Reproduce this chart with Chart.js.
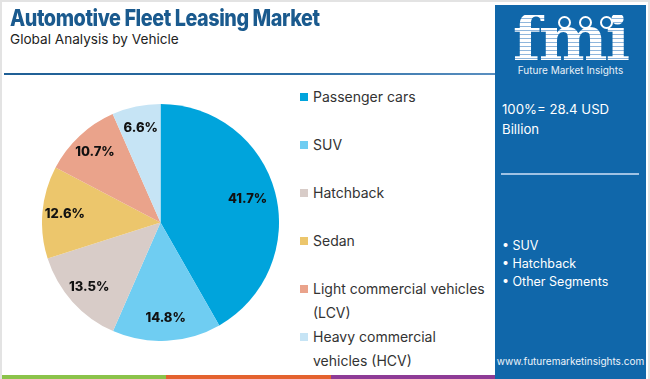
<!DOCTYPE html>
<html>
<head>
<meta charset="utf-8">
<script src="https://cdn.jsdelivr.net/npm/chart.js@4.4.1/dist/chart.umd.min.js"></script>
<style>
  html, body { margin: 0; padding: 0; background: #fff; }
  body { width: 650px; height: 379px; position: relative; overflow: hidden; font-family: "Inter", "Open Sans", sans-serif; }
  .frame { position: absolute; left: 0; top: 0; width: 646px; height: 377px; border: 2px solid #e3e3e3; border-bottom: none; }
  .title { position: absolute; left: 10px; top: 4px; font-size: 23px; font-weight: 800; color: #1a5a8e; letter-spacing: -0.5px; white-space: nowrap; transform: scaleX(0.86); transform-origin: left top; }
  .subtitle { position: absolute; left: 10px; top: 31px; font-size: 13.6px; color: #222; white-space: nowrap; }
  .rule { position: absolute; left: 4px; top: 73px; width: 491px; height: 2px; background: linear-gradient(90deg, #1f5f95, #2d6fa6 60%, #5a8fc0); }
  .stripes { position: absolute; left: 2px; top: 375px; height: 4px; width: 493px; display: flex; }
  .stripes div { flex: 1; }
  #pieBox { position: absolute; left: 42px; top: 104px; width: 237px; height: 237px; }
  #legend { position: absolute; left: 300px; top: 85px; width: 200px; font-size: 14px; color: #333; }
  #legend .item { position: absolute; left: 0; display: flex; line-height: 24px; }
  #legend .sw { width: 8px; height: 8px; margin-top: 8px; margin-right: 5px; flex: none; }
  .panel { position: absolute; left: 495px; top: 5px; width: 151px; height: 374px; background: #1067aa; color: #fff; }
  .logo { position: absolute; left: 0; top: 10px; width: 151px; text-align: center; }
  .fmi { font-family: "DejaVu Serif", serif; font-weight: bold; font-size: 62px; line-height: 48px; letter-spacing: -2px; transform: scaleX(1.05);
         background: repeating-linear-gradient(180deg, #fff 0 3px, #8fb6dc 3px 4px); -webkit-background-clip: text; background-clip: text; color: transparent; }
  .globes { position: absolute; top: -2px; left: 63px; z-index: 2; white-space: nowrap; }
  .globes span { display: inline-block; width: 9px; height: 9px; border-radius: 50%; background: #1067aa; border: 2px solid #fff; margin-right: 8px; }
  .fmitext { font-size: 10px; margin-top: 1px; color: #e8f0f8; }
  .total { position: absolute; left: 7px; top: 94px; font-size: 13.2px; line-height: 20px; }
  .hr { position: absolute; left: 6px; top: 168px; width: 138px; height: 2px; background: #9fc2e4; }
  .bullets { position: absolute; left: 7px; top: 232px; font-size: 12.5px; line-height: 18px; }
  .url { position: absolute; left: 0; width: 151px; top: 350px; text-align: center; font-size: 10px; color: #eef4fa; }
</style>
</head>
<body>
<div class="frame"></div>
<div class="title">Automotive Fleet Leasing Market</div>
<div class="subtitle">Global Analysis by Vehicle</div>
<div class="rule"></div>
<div id="pieBox"><canvas id="pie"></canvas></div>
<div id="legend"></div>
<div class="stripes"><div style="background:#8bc34a"></div><div style="background:#e4622f"></div><div style="background:#8e3b96"></div></div>
<div class="panel">
  <div class="logo">
    <div class="fmi">fmi</div>
    <div class="globes"><span></span><span></span><span></span></div>
    <div class="fmitext">Future Market Insights</div>
  </div>
  <div class="total">100%= 28.4 USD<br>Billion</div>
  <div class="hr"></div>
  <div class="bullets">• SUV<br>• Hatchback<br>• Other Segments</div>
  <div class="url">www.futuremarketinsights.com</div>
</div>
<script>
const vehicles = ["Passenger cars", "SUV", "Hatchback", "Sedan", "Light commercial vehicles (LCV)", "Heavy commercial vehicles (HCV)"];
const legendLines = [["Passenger cars"], ["SUV"], ["Hatchback"], ["Sedan"], ["Light commercial vehicles", "(LCV)"], ["Heavy commercial", "vehicles (HCV)"]];
const shares = [41.7, 14.8, 13.5, 12.6, 10.7, 6.6];
const colors = ["#00a4dc", "#6fcdf2", "#d8ccc8", "#ecc66c", "#eaa38b", "#c6e4f5"];
const legendTops = [0, 48, 96, 144, 192, 240];

// legend built from the same arrays
const legendEl = document.getElementById("legend");
legendLines.forEach((lines, i) => {
  const item = document.createElement("div");
  item.className = "item";
  item.style.top = legendTops[i] + "px";
  item.innerHTML = '<div class="sw" style="background:' + colors[i] + '"></div><div>' + lines.join("<br>") + "</div>";
  legendEl.appendChild(item);
});

const sliceLabels = {
  id: "sliceLabels",
  afterDatasetsDraw(chart) {
    const ctx = chart.ctx;
    const meta = chart.getDatasetMeta(0);
    ctx.save();
    ctx.font = "800 13px Inter, sans-serif";
    ctx.fillStyle = "#111";
    ctx.textAlign = "center";
    ctx.textBaseline = "middle";
    meta.data.forEach((arc, i) => {
      const p = arc.getProps(["x", "y", "startAngle", "endAngle", "outerRadius"], true);
      const mid = (p.startAngle + p.endAngle) / 2;
      const r = p.outerRadius * (i === 0 ? 0.76 : 0.81);
      ctx.fillText(shares[i].toFixed(1) + "%", p.x + Math.cos(mid) * r, p.y + Math.sin(mid) * r);
    });
    ctx.restore();
  }
};

new Chart(document.getElementById("pie"), {
  type: "pie",
  data: {
    labels: vehicles,
    datasets: [{ data: shares, backgroundColor: colors, borderWidth: 0 }]
  },
  options: {
    responsive: true,
    maintainAspectRatio: false,
    animation: false,
    layout: { padding: 0 },
    plugins: { legend: { display: false }, tooltip: { enabled: false } }
  },
  plugins: [sliceLabels]
});
</script>
</body>
</html>
